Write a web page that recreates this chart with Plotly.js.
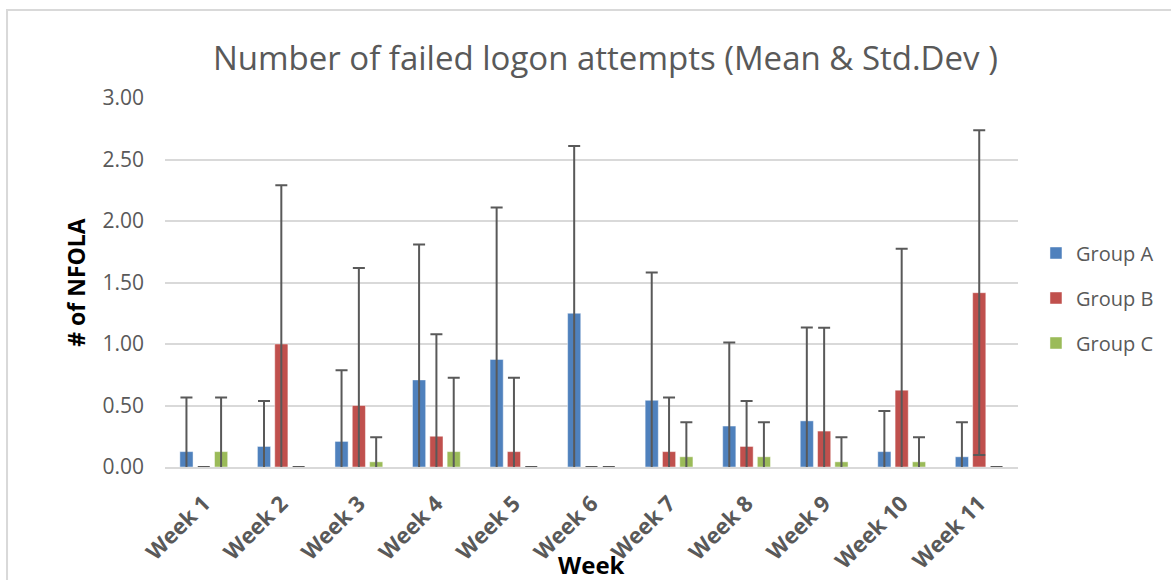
<!DOCTYPE html>
<html>
<head>
<meta charset="utf-8">
<script src="https://cdn.plot.ly/plotly-3.0.1.min.js"></script>
<style>html,body{margin:0;padding:0;background:#fff;}#chart{width:1171px;height:580px;}</style>
</head>
<body>
<div id="chart"></div>
<script>
const weeks = ["Week 1","Week 2","Week 3","Week 4","Week 5","Week 6","Week 7","Week 8","Week 9","Week 10","Week 11"];
const groupNames = ["Group A","Group B","Group C"];
const meanA = [0.125, 0.167, 0.208, 0.708, 0.875, 1.25, 0.542, 0.333, 0.375, 0.125, 0.083];
const meanB = [0, 1.0, 0.5, 0.25, 0.125, 0, 0.125, 0.167, 0.292, 0.625, 1.417];
const meanC = [0.125, 0, 0.042, 0.125, 0, 0, 0.083, 0.083, 0.042, 0.042, 0];
const sdA = [0.44, 0.37, 0.578, 1.1, 1.235, 1.36, 1.04, 0.68, 0.76, 0.33, 0.28];
const sdB = [null, 1.29, 1.118, 0.829, 0.6, null, 0.44, 0.37, 0.84, 1.15, 1.32];
const sdC = [0.44, null, 0.2, 0.6, null, null, 0.28, 0.28, 0.2, 0.2, null];
const colors = ["#4F81BD", "#C0504D", "#9BBB59"];

const FONT = "'Open Sans', 'Noto Sans', sans-serif";
const means = [meanA, meanB, meanC];
const sds = [sdA, sdB, sdC];

const traces = groupNames.map((name, i) => ({
  type: "bar",
  name: name,
  legendgroup: name,
  x: weeks,
  y: means[i],
  marker: {color: colors[i], line: {color: "rgba(255,255,255,0.45)", width: 1}},
  error_y: {type: "data", symmetric: true, array: sds[i], visible: true,
            color: "#595959", thickness: 2, width: 6}
}));

const layout = {
  width: 1171, height: 580,
  paper_bgcolor: "#ffffff", plot_bgcolor: "#ffffff",
  margin: {l: 165, r: 153, t: 98, b: 113},
  barmode: "group",
  bargap: 0.33,
  bargroupgap: 0.24,
  font: {family: FONT, color: "#595959"},
  title: {text: "Number of failed logon attempts (Mean & Std.Dev )",
          font: {family: FONT, size: 33, color: "#595959"},
          xref: "container", yref: "container", x: 0.517, y: 0.9, xanchor: "center", yanchor: "middle"},
  xaxis: {
    type: "category",
    tickangle: -45,
    tickfont: {family: FONT, size: 22, color: "#595959", weight: "bold"},
    ticklabelstandoff: 13,
    showline: true, linecolor: "#d9d9d9", linewidth: 2,
    ticks: "", showgrid: false, zeroline: false,
    automargin: false
  },
  yaxis: {
    range: [0, 3],
    dtick: 0.5,
    tickformat: ".2f",
    tickfont: {family: FONT, size: 21, color: "#595959"},
    gridcolor: "#d9d9d9", gridwidth: 2,
    zeroline: false, showline: false, ticks: "",
    ticklabelstandoff: 20,
    automargin: false,
    title: {text: "# of NFOLA", font: {family: FONT, size: 23, color: "#000000", weight: "bold"}, standoff: 10}
  },
  legend: {
    xref: "container", yref: "paper",
    x: 0.8847, y: 0.458, xanchor: "left", yanchor: "middle",
    font: {family: FONT, size: 20, color: "#595959"},
    tracegroupgap: 16,
    traceorder: "grouped",
    itemwidth: 30
  },
  annotations: [{
    text: "<b>Week</b>", xref: "paper", yref: "paper", x: 0.5, y: -0.265,
    xanchor: "center", yanchor: "middle", showarrow: false,
    font: {family: FONT, size: 24, color: "#000000"}
  }],
  shapes: [{
    type: "rect", xref: "paper", yref: "paper",
    x0: -0.1852, x1: 1.19, y0: -0.35, y1: 1.2385,
    line: {color: "#d9d9d9", width: 2}, fillcolor: "rgba(0,0,0,0)", layer: "below"
  }]
};

Plotly.newPlot("chart", traces, layout, {displayModeBar: false, staticPlot: true});
</script>
</body>
</html>
